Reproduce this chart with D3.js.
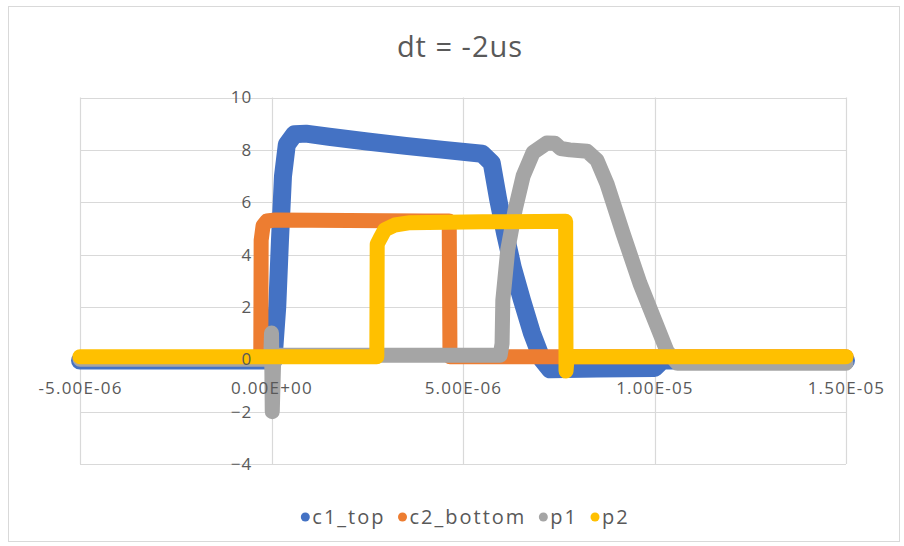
<!DOCTYPE html>
<html>
<head>
<meta charset="utf-8">
<script src="https://cdn.jsdelivr.net/npm/d3@7"></script>
<style>
  html, body { margin: 0; padding: 0; background: #fff; }
  svg { display: block; }
  text { font-family: "Open Sans", "Liberation Sans", sans-serif; fill: #595959; }
</style>
</head>
<body>
<svg id="chart" width="904" height="546"></svg>
<script>
// Chart title and axis ticks
const title = "dt = -2us";
const xTickValues = [-5e-6, 0, 5e-6, 1e-5, 1.5e-5];
const xTickLabels = ["-5.00E-06", "0.00E+00", "5.00E-06", "1.00E-05", "1.50E-05"];
const yTickValues = [-4, -2, 0, 2, 4, 6, 8, 10];

// Series names and colours
const seriesNames = ["c1_top", "c2_bottom", "p1", "p2"];
const seriesColors = ["#4472C4", "#ED7D31", "#A5A5A5", "#FFC000"];

// Waveforms: [time (s), amplitude]
const c1Top = [
  [-5e-6, -0.05], [0.05e-6, -0.05], [0.15e-6, 2.0], [0.22e-6, 4.5], [0.3e-6, 7.0],
  [0.4e-6, 8.2], [0.6e-6, 8.6], [0.9e-6, 8.62], [1.5e-6, 8.5], [2.5e-6, 8.32],
  [3.5e-6, 8.15], [4.5e-6, 8.0], [5.5e-6, 7.85], [5.75e-6, 7.5], [5.92e-6, 6.1],
  [6.1e-6, 4.8], [6.3e-6, 3.5], [6.54e-6, 2.26], [6.8e-6, 1.0], [7.06e-6, 0.0],
  [7.27e-6, -0.38], [8.5e-6, -0.35], [1.0e-5, -0.33], [1.02e-5, -0.05], [1.5e-5, -0.05]
];
const c2Bottom = [
  [-5e-6, 0.05], [-0.28e-6, 0.05], [-0.27e-6, 4.55], [-0.22e-6, 5.1], [-0.12e-6, 5.28],
  [0.1e-6, 5.32], [2e-6, 5.3], [4.0e-6, 5.28], [4.64e-6, 5.28], [4.66e-6, 0.1],
  [1.5e-5, 0.1]
];
const p1 = [
  [-5e-6, 0.0], [-0.02e-6, 0.0], [0.0, 1.0], [0.02e-6, -2.0], [0.06e-6, 0.15],
  [3e-6, 0.15], [5.97e-6, 0.15], [6.02e-6, 0.6], [6.04e-6, 2.26], [6.17e-6, 4.2],
  [6.36e-6, 5.7], [6.57e-6, 7.0], [6.83e-6, 7.9], [7.19e-6, 8.26], [7.4e-6, 8.25],
  [7.55e-6, 8.05], [7.79e-6, 8.0], [8.24e-6, 7.95], [8.5e-6, 7.6], [8.76e-6, 6.7],
  [9.18e-6, 4.8], [9.62e-6, 2.9], [1.007e-5, 1.25], [1.033e-5, 0.3], [1.06e-5, -0.15],
  [1.5e-5, -0.15]
];
const p2 = [
  [-5e-6, 0.1], [2.75e-6, 0.1], [2.76e-6, 4.4], [2.83e-6, 4.6], [2.96e-6, 4.95],
  [3.22e-6, 5.13], [3.62e-6, 5.22], [5.5e-6, 5.25], [7.68e-6, 5.27], [7.69e-6, -0.45],
  [7.72e-6, 0.1], [1.5e-5, 0.1]
];
const seriesData = [c1Top, c2Bottom, p1, p2];
const seriesWidths = [18, 15, 15, 15];

const svg = d3.select("#chart");

// Chart frame
svg.append("rect")
  .attr("x", 8.5).attr("y", 6.5).attr("width", 891).attr("height", 535)
  .attr("fill", "#fff").attr("stroke", "#D9D9D9").attr("stroke-width", 1);

const plot = { left: 80, right: 846, top: 97.5, bottom: 464 };

const x = d3.scaleLinear().domain([-5e-6, 1.5e-5]).range([plot.left, plot.right]);
const y = d3.scaleLinear().domain([-4, 10]).range([plot.bottom, plot.top]);

// Gridlines
const grid = svg.append("g");
grid.selectAll("line.h").data(yTickValues).join("line")
  .attr("x1", plot.left).attr("x2", plot.right)
  .attr("y1", d => Math.round(y(d)) + 0.5).attr("y2", d => Math.round(y(d)) + 0.5)
  .attr("stroke", "#D9D9D9").attr("stroke-width", 1.2);
grid.selectAll("line.v").data(xTickValues).join("line")
  .attr("y1", plot.top).attr("y2", plot.bottom)
  .attr("x1", d => Math.round(x(d)) + 0.5).attr("x2", d => Math.round(x(d)) + 0.5)
  .attr("stroke", "#D9D9D9").attr("stroke-width", 1.2);

// Waveforms
const line = d3.line().x(d => x(d[0])).y(d => y(d[1]));
svg.append("g").selectAll("path").data(seriesData).join("path")
  .attr("d", line)
  .attr("fill", "none")
  .attr("stroke", (d, i) => seriesColors[i])
  .attr("stroke-width", (d, i) => seriesWidths[i])
  .attr("stroke-linejoin", "round")
  .attr("stroke-linecap", "round");

// Axes, drawn above the waveforms: value axis crosses at t = 0,
// time labels sit under the zero line
const yAxis = d3.axisLeft(y).tickValues(yTickValues).tickSize(0).tickPadding(19);
svg.append("g")
  .attr("transform", `translate(${x(0)},0)`)
  .call(yAxis)
  .call(g => g.select(".domain").remove())
  .selectAll("text")
  .style("font-size", "17px").style("letter-spacing", "1.2px").attr("fill", "#595959");

const xAxis = d3.axisBottom(x).tickValues(xTickValues)
  .tickFormat((d, i) => xTickLabels[i]).tickSize(0).tickPadding(23);
svg.append("g")
  .attr("transform", `translate(0,${y(0)})`)
  .call(xAxis)
  .call(g => g.select(".domain").remove())
  .selectAll("text")
  .style("font-size", "17px").style("letter-spacing", "1.2px").attr("fill", "#595959");

// Title
svg.append("text")
  .attr("x", 460).attr("y", 57)
  .attr("text-anchor", "middle")
  .style("font-size", "29px").style("letter-spacing", "1px")
  .text(title);

// Legend
const legend = svg.append("g");
const items = legend.selectAll("g").data(seriesNames).join("g");
items.append("circle").attr("r", 4.5).attr("cy", 0).attr("cx", 0)
  .attr("fill", (d, i) => seriesColors[i]);
items.append("text").attr("x", 7).attr("y", 0).attr("dy", "0.35em")
  .style("font-size", "20px").style("letter-spacing", "2px").text(d => d);
const widths = [];
items.each(function () {
  widths.push(this.querySelector("text").getComputedTextLength() + 7);
});
const gap = 17;
const total = d3.sum(widths) + gap * (widths.length - 1);
let cx = (plot.left + plot.right) / 2 - total / 2;
items.attr("transform", (d, i) => {
  const t = `translate(${cx + 4.5},517)`;
  cx += widths[i] + gap;
  return t;
});
</script>
</body>
</html>
